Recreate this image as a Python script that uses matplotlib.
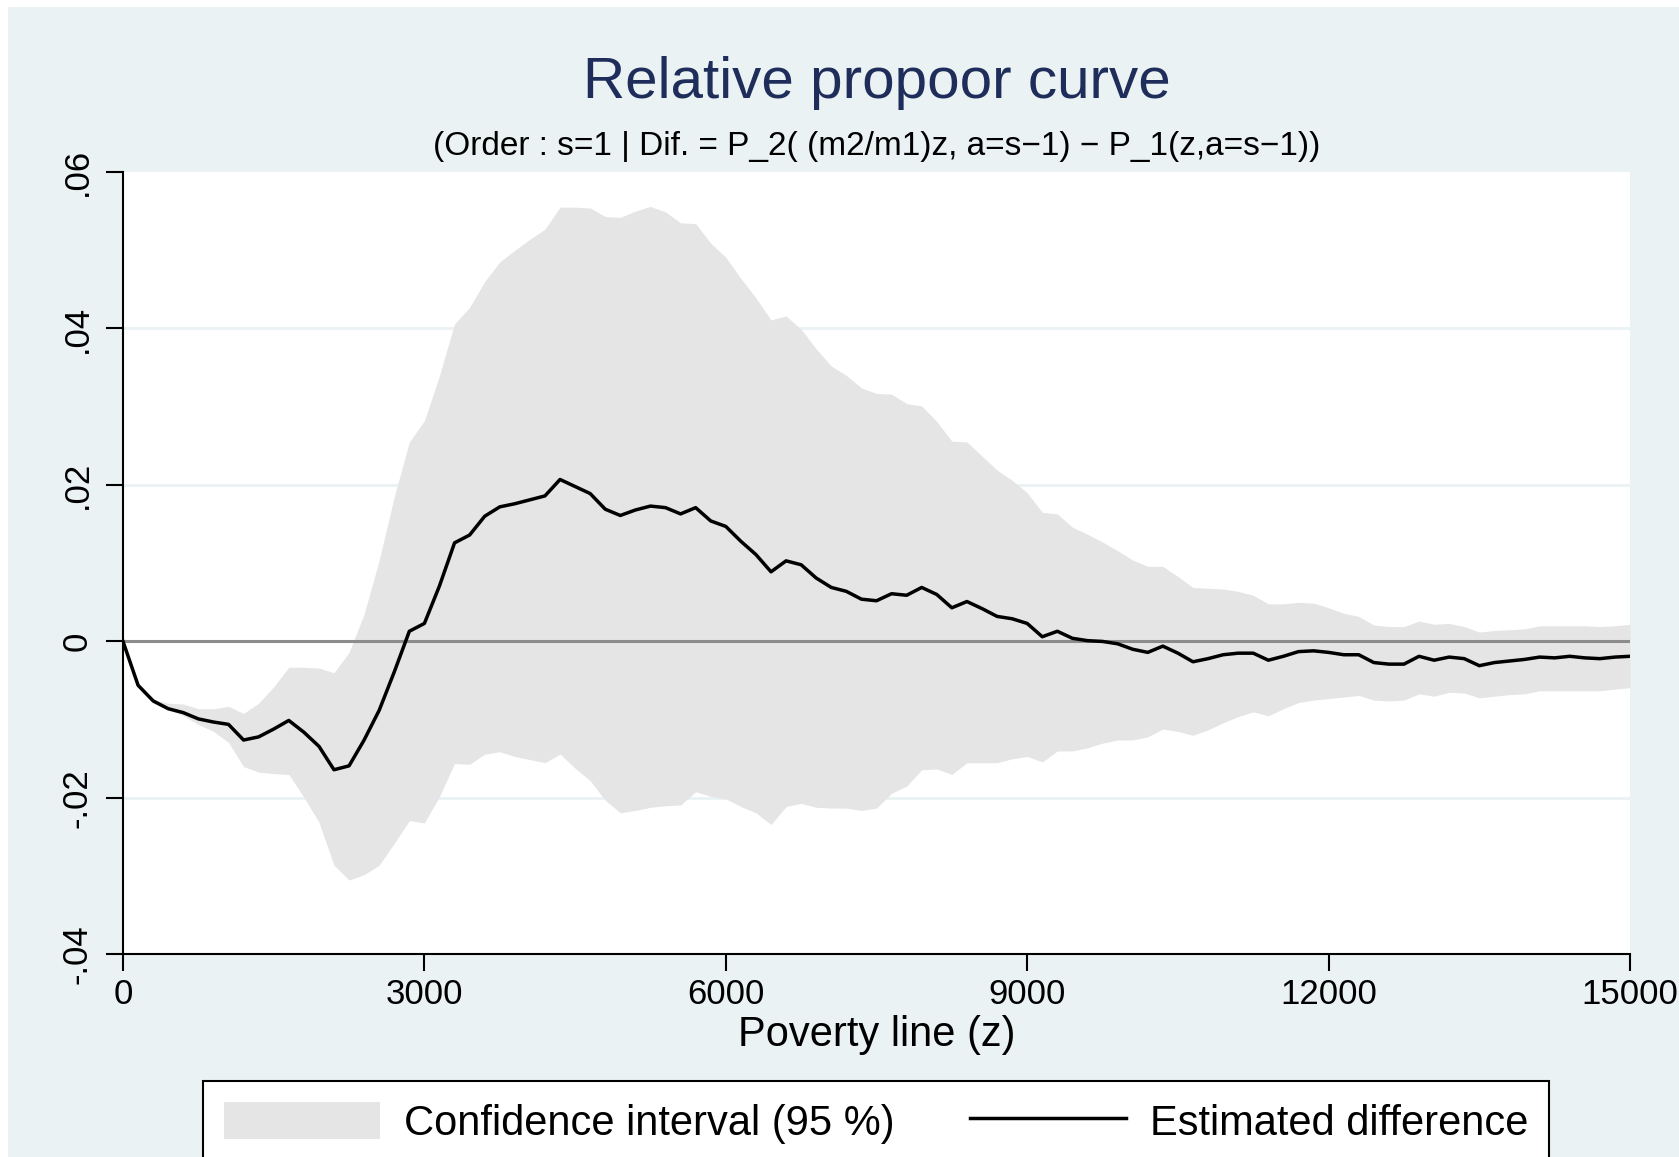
import numpy as np
import matplotlib
matplotlib.use("Agg")
import matplotlib.pyplot as plt
from matplotlib.patches import Patch, Rectangle
from matplotlib.lines import Line2D

plt.rcParams["font.family"] = ["Liberation Sans", "DejaVu Sans"]

# poverty lines z = 0, 150, ..., 15000
z = np.arange(0, 15001, 150)

# estimated difference
est = [
    0.0, -0.0056, -0.0076, -0.0086, -0.0091, -0.0099, -0.0103, -0.0106, -0.0126, -0.0122,
    -0.0112, -0.0101, -0.0116, -0.0134, -0.0164, -0.0159, -0.0126, -0.0088, -0.0039, 0.0013,
    0.0023, 0.0071, 0.0126, 0.0136, 0.0160, 0.0172, 0.0176, 0.0181, 0.0186, 0.0207,
    0.0198, 0.0189, 0.0169, 0.0161, 0.0168, 0.0173, 0.0171, 0.0163, 0.0171, 0.0154,
    0.0147, 0.0128, 0.0111, 0.0089, 0.0103, 0.0098, 0.0081, 0.0069, 0.0064, 0.0054,
    0.0052, 0.0061, 0.0059, 0.0069, 0.0060, 0.0043, 0.0051, 0.0042, 0.0032, 0.0029,
    0.0023, 0.0006, 0.0013, 0.0004, 0.0001, -0.0000, -0.0003, -0.0010, -0.0014, -0.0006,
    -0.0015, -0.0026, -0.0022, -0.0017, -0.0015, -0.0015, -0.0024, -0.0019, -0.0013, -0.0012,
    -0.0014, -0.0017, -0.0017, -0.0027, -0.0029, -0.0029, -0.0019, -0.0024, -0.0020, -0.0022,
    -0.0031, -0.0027, -0.0025, -0.0023, -0.0020, -0.0021, -0.0019, -0.0021, -0.0022, -0.0020,
    -0.0019,
]

# upper bound of the 95 % confidence interval
upper = [
    0.0, -0.0055, -0.0074, -0.0079, -0.0080, -0.0086, -0.0086, -0.0083, -0.0092, -0.0079,
    -0.0058, -0.0033, -0.0033, -0.0034, -0.0040, -0.0014, 0.0035, 0.0104, 0.0185, 0.0255,
    0.0282, 0.0340, 0.0406, 0.0427, 0.0460, 0.0485, 0.0500, 0.0514, 0.0527, 0.0555,
    0.0555, 0.0554, 0.0543, 0.0542, 0.0550, 0.0556, 0.0549, 0.0535, 0.0534, 0.0509,
    0.0491, 0.0464, 0.0439, 0.0411, 0.0416, 0.0399, 0.0374, 0.0352, 0.0340, 0.0324,
    0.0317, 0.0316, 0.0304, 0.0301, 0.0281, 0.0256, 0.0255, 0.0237, 0.0219, 0.0206,
    0.0190, 0.0165, 0.0163, 0.0146, 0.0137, 0.0127, 0.0116, 0.0104, 0.0096, 0.0096,
    0.0083, 0.0069, 0.0068, 0.0067, 0.0064, 0.0059, 0.0048, 0.0048, 0.0050, 0.0049,
    0.0043, 0.0036, 0.0032, 0.0021, 0.0019, 0.0019, 0.0026, 0.0022, 0.0023, 0.0019,
    0.0012, 0.0014, 0.0015, 0.0016, 0.0020, 0.0020, 0.0020, 0.0020, 0.0019, 0.0020,
    0.0022,
]

# lower bound of the 95 % confidence interval
lower = [
    0.0, -0.0057, -0.0079, -0.0087, -0.0095, -0.0106, -0.0115, -0.0129, -0.0160, -0.0167,
    -0.0169, -0.0170, -0.0199, -0.0231, -0.0286, -0.0305, -0.0298, -0.0286, -0.0258, -0.0229,
    -0.0232, -0.0198, -0.0156, -0.0157, -0.0144, -0.0141, -0.0147, -0.0151, -0.0155, -0.0144,
    -0.0162, -0.0178, -0.0203, -0.0219, -0.0216, -0.0212, -0.0210, -0.0209, -0.0192, -0.0198,
    -0.0201, -0.0211, -0.0219, -0.0234, -0.0211, -0.0207, -0.0212, -0.0213, -0.0213, -0.0216,
    -0.0213, -0.0194, -0.0185, -0.0164, -0.0163, -0.0170, -0.0155, -0.0155, -0.0155, -0.0150,
    -0.0147, -0.0154, -0.0140, -0.0140, -0.0136, -0.0130, -0.0126, -0.0126, -0.0122, -0.0112,
    -0.0115, -0.0120, -0.0113, -0.0104, -0.0096, -0.0090, -0.0095, -0.0086, -0.0078, -0.0075,
    -0.0073, -0.0071, -0.0069, -0.0075, -0.0076, -0.0075, -0.0067, -0.0070, -0.0065, -0.0066,
    -0.0072, -0.0070, -0.0068, -0.0067, -0.0063, -0.0063, -0.0063, -0.0063, -0.0063, -0.0061,
    -0.0059,
]

xticks = [0, 3000, 6000, 9000, 12000, 15000]
yticks = [-0.04, -0.02, 0, 0.02, 0.04, 0.06]
ytick_labels = ["-.04", "-.02", "0", ".02", ".04", ".06"]
grid_at = [-0.02, 0.02, 0.04]

bg = "#eaf2f3"
band = "#e5e5e5"

fig = plt.figure(figsize=(16.79, 11.57), dpi=100, facecolor="white")
# stata-like graph region (thin white border on top/left)
fig.patches.append(Rectangle((8 / 1679, 0), 1, 1 - 7 / 1157, transform=fig.transFigure,
                             facecolor=bg, edgecolor="none", zorder=-10))

ax = fig.add_axes([0.07326, 0.17511, 0.89756, 0.67623])
ax.set_facecolor("white")

for g in grid_at:
    ax.axhline(g, color=bg, lw=2.0, zorder=1)

ax.fill_between(z, lower, upper, color=band, lw=0, zorder=2)
ax.axhline(0, color="#8c8c8c", lw=2.2, zorder=3)
ax.plot(z, est, color="black", lw=2.5, zorder=4)

ax.set_xlim(0, 15000)
ax.set_ylim(-0.04, 0.06)
ax.set_xticks(xticks)
ax.set_xticklabels([str(v) for v in xticks])
ax.set_yticks(yticks)
ax.set_yticklabels(ytick_labels, rotation=90, va="center")

for s in ["top", "right"]:
    ax.spines[s].set_visible(False)
for s in ["left", "bottom"]:
    ax.spines[s].set_linewidth(1.5)
    ax.spines[s].set_color("black")

ax.tick_params(axis="both", length=12, width=1.5, labelsize=25, color="black")
ax.tick_params(axis="x", pad=5)
ax.tick_params(axis="y", pad=9)

ax.set_xlabel("Poverty line (z)", fontsize=30, labelpad=3)

cx = 0.07326 + 0.89756 / 2
fig.text(cx, 0.928, "Relative propoor curve", fontsize=42, color="#1e2d5a",
         ha="center", va="center")
fig.text(cx, 0.873, "(Order : s=1 | Dif. = P_2( (m2/m1)z, a=s\u22121) \u2212 P_1(z,a=s\u22121))",
         fontsize=24, color="black", ha="center", va="center")

handles = [Patch(facecolor=band, edgecolor="none", label="Confidence interval (95 %)"),
           Line2D([], [], color="black", lw=2.5, label="Estimated difference")]
leg = fig.legend(handles=handles, loc="upper center", bbox_to_anchor=(0.5217, 0.0657),
                 ncol=2, fontsize=30, frameon=True, fancybox=False, shadow=False,
                 framealpha=1.0, borderpad=0.5, handlelength=3.75, handleheight=1.0,
                 handletextpad=0.58, columnspacing=1.8, borderaxespad=0)
leg.get_frame().set_edgecolor("black")
leg.get_frame().set_linewidth(1.5)
leg.get_frame().set_facecolor("white")

fig.savefig("out.png", dpi=100, facecolor=fig.get_facecolor())
